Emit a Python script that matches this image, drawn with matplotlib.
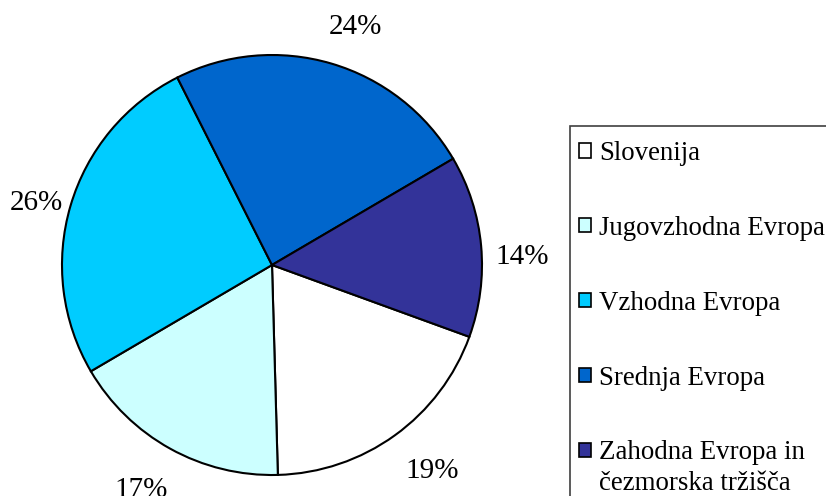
import matplotlib.pyplot as plt
from matplotlib.patches import Patch, Rectangle

regions = ["Slovenija", "Jugovzhodna Evropa", "Vzhodna Evropa", "Srednja Evropa",
           "Zahodna Evropa in"]
last_line = "čezmorska tržišča"
shares = [19, 17, 26, 24, 14]
colors = ["#FFFFFF", "#CCFFFF", "#00CCFF", "#0066CC", "#333399"]

plt.rcParams["font.family"] = ["Liberation Serif", "DejaVu Serif"]

W, H = 826, 496
fig = plt.figure(figsize=(W / 100, H / 100), dpi=100)

# pie centre ~ (272, 265) px, radius ~210 px
cx, cy, r = 272, 265, 210
pad = 1.03
ax = fig.add_axes([(cx - r * pad) / W, (H - cy - r * pad) / H, 2 * r * pad / W, 2 * r * pad / H])
wedges, texts, autotexts = ax.pie(
    shares, colors=colors, startangle=-20, counterclock=False,
    autopct=lambda p: f"{p:.0f}%", pctdistance=1.21,
    wedgeprops=dict(edgecolor="black", linewidth=1.5),
    textprops=dict(fontsize=21, color="black"))
# small nudges (pixels, right/down) so labels sit where Excel put them
nudges = [(12, -3), (-8, 0), (8, 7), (12, 3), (-3, 12)]
for t, (dx, dy) in zip(autotexts, nudges):
    t.set_va("center_baseline")
    x, y = t.get_position()
    t.set_position((x + dx / r, y - dy / r))
ax.set_xlim(-pad, pad)
ax.set_ylim(-pad, pad)
ax.set_aspect("equal")

# legend frame runs off the right and bottom edges
fig.patches.append(Rectangle((570 / W, -0.05), 0.5, (H - 126) / H + 0.05,
                             transform=fig.transFigure, facecolor="white",
                             edgecolor="#404040", linewidth=1.2, zorder=0))
handles = [Patch(facecolor=c, edgecolor="black", linewidth=1.2) for c in colors]
fs = 19.4
leg = fig.legend(handles, regions, loc="upper left", bbox_to_anchor=(579 / W, (H - 141) / H),
                 frameon=False, fontsize=fs, handlelength=0.45, handleheight=0.45,
                 handletextpad=0.3, labelspacing=1.85, borderpad=0, borderaxespad=0)

# second line of the last entry, under its first line
fig.canvas.draw()
bb = leg.get_texts()[-1].get_window_extent()
fig.text(bb.x0 / W, (bb.y0 - 6) / H, last_line, fontsize=fs, ha="left", va="top")

fig.savefig("out.png", dpi=100)
